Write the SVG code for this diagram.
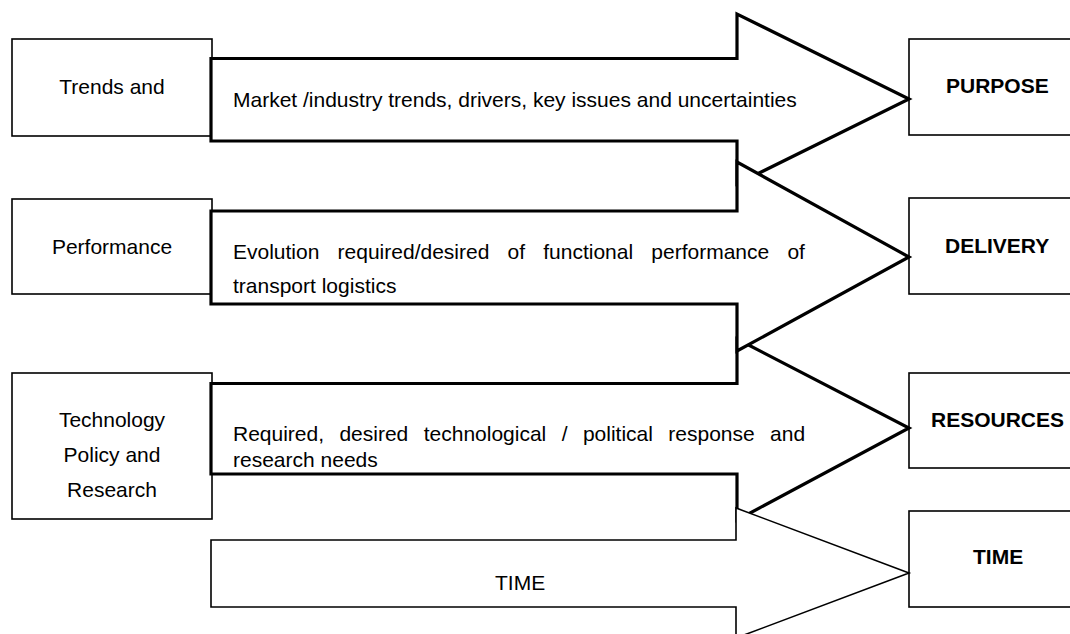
<svg xmlns="http://www.w3.org/2000/svg" width="1070" height="634" viewBox="0 0 1070 634">
  <style>
    .box { fill: #ffffff; stroke: #000000; stroke-width: 1.6; }
    .band { fill: #ffffff; stroke: #000000; stroke-width: 3.2; stroke-linejoin: miter; }
    .band-thin { fill: #ffffff; stroke: #000000; stroke-width: 1.6; stroke-linejoin: miter; }
    text { font-family: "Liberation Sans", Arial, sans-serif; font-size: 21px; fill: #000000; }
    .mid { text-anchor: middle; }
    .bold { font-weight: bold; }
  </style>

  <rect width="1070" height="634" fill="#ffffff"/>

  <!-- left-hand layer labels -->
  <g id="node-trends">
    <rect class="box" x="12" y="39" width="200" height="97"/>
    <text class="mid" x="112" y="94">Trends and</text>
  </g>
  <g id="node-performance">
    <rect class="box" x="12" y="199" width="200" height="95"/>
    <text class="mid" x="112" y="254">Performance</text>
  </g>
  <g id="node-technology">
    <rect class="box" x="12" y="373" width="200" height="146"/>
    <text class="mid" x="112" y="427">Technology</text>
    <text class="mid" x="112" y="462">Policy and</text>
    <text class="mid" x="112" y="497">Research</text>
  </g>

  <!-- right-hand outcome boxes (run past the right edge) -->
  <g id="node-purpose">
    <rect class="box" x="909" y="39" width="200" height="96"/>
    <text class="bold" x="946" y="93">PURPOSE</text>
  </g>
  <g id="node-delivery">
    <rect class="box" x="909" y="198" width="200" height="96"/>
    <text class="bold" x="945" y="253">DELIVERY</text>
  </g>
  <g id="node-resources">
    <rect class="box" x="909" y="373" width="200" height="95"/>
    <text class="bold" x="931" y="427">RESOURCES</text>
  </g>
  <g id="node-time">
    <rect class="box" x="909" y="511" width="200" height="96"/>
    <text class="bold" x="973" y="564">TIME</text>
  </g>

  <!-- block arrows; the lower ones overlap the notch of the one above -->
  <g id="connectors">
    <g id="arrow-market">
      <polygon class="band" points="211,58.5 737,58.5 737,14 909,99 737,184 737,141 211,141"/>
      <text x="233" y="107">Market /industry trends, drivers, key issues and uncertainties</text>
    </g>
    <g id="arrow-technology">
      <polygon class="band" points="211,383.5 737,383.5 737,339 909,428 737,520 737,474 211,474"/>
      <text y="441"><tspan x="233">Required,</tspan><tspan x="339.4">desired</tspan><tspan x="423.7">technological</tspan><tspan x="561.7">/</tspan><tspan x="582.9">political</tspan><tspan x="668.3">response</tspan><tspan x="770.1">and</tspan></text>
      <text x="233" y="467">research needs</text>
    </g>
    <g id="arrow-performance">
      <polygon class="band" points="211,211 737,211 737,162 909,257 737,351 737,304 211,304"/>
      <text y="259"><tspan x="233">Evolution</tspan><tspan x="337.6">required/desired</tspan><tspan x="507.5">of</tspan><tspan x="543.2">functional</tspan><tspan x="651.3">performance</tspan><tspan x="787.4">of</tspan></text>
      <text x="233" y="293">transport logistics</text>
    </g>
    <g id="arrow-time">
      <polygon class="band-thin" points="211,540 736,540 736,508 909,573 736,638 736,607 211,607"/>
      <text x="495" y="590">TIME</text>
    </g>
  </g>
</svg>
